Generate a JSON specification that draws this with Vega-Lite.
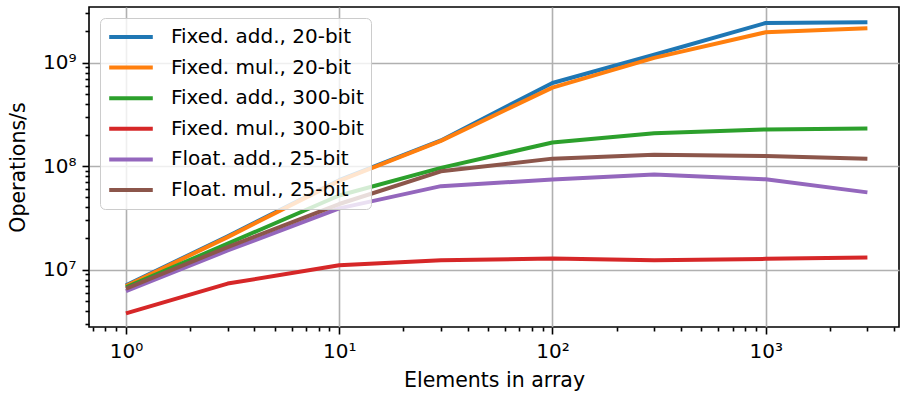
{
  "$schema": "https://vega.github.io/schema/vega-lite/v6.json",
  "width": 810,
  "height": 320,
  "autosize": {"type": "none"},
  "padding": {"left": 89, "top": 7, "right": 1, "bottom": 67},
  "background": "white",
  "config": {
    "font": "DejaVu Sans",
    "view": {"stroke": "black", "strokeWidth": 1.6},
    "axis": {
      "labelFont": "DejaVu Sans",
      "titleFont": "DejaVu Sans",
      "labelFontSize": 20,
      "titleFontSize": 20.5,
      "titleFontWeight": "normal",
      "labelColor": "black",
      "titleColor": "black",
      "domain": false,
      "tickColor": "black",
      "tickWidth": 1.6,
      "gridColor": "#b0b0b0",
      "gridWidth": 1.6
    }
  },
  "data": {
    "values": [
      {"series": "Fixed. add., 20-bit", "n": 1, "ops": 7050000},
      {"series": "Fixed. add., 20-bit", "n": 3, "ops": 21000000},
      {"series": "Fixed. add., 20-bit", "n": 10, "ops": 73000000},
      {"series": "Fixed. add., 20-bit", "n": 30, "ops": 177000000},
      {"series": "Fixed. add., 20-bit", "n": 100, "ops": 635000000},
      {"series": "Fixed. add., 20-bit", "n": 300, "ops": 1190000000},
      {"series": "Fixed. add., 20-bit", "n": 1000, "ops": 2410000000},
      {"series": "Fixed. add., 20-bit", "n": 3000, "ops": 2450000000},
      {"series": "Fixed. mul., 20-bit", "n": 1, "ops": 6950000},
      {"series": "Fixed. mul., 20-bit", "n": 3, "ops": 20600000},
      {"series": "Fixed. mul., 20-bit", "n": 10, "ops": 72000000},
      {"series": "Fixed. mul., 20-bit", "n": 30, "ops": 175000000},
      {"series": "Fixed. mul., 20-bit", "n": 100, "ops": 573000000},
      {"series": "Fixed. mul., 20-bit", "n": 300, "ops": 1110000000},
      {"series": "Fixed. mul., 20-bit", "n": 1000, "ops": 1960000000},
      {"series": "Fixed. mul., 20-bit", "n": 3000, "ops": 2140000000},
      {"series": "Fixed. add., 300-bit", "n": 1, "ops": 6740000},
      {"series": "Fixed. add., 300-bit", "n": 3, "ops": 17800000},
      {"series": "Fixed. add., 300-bit", "n": 10, "ops": 52000000},
      {"series": "Fixed. add., 300-bit", "n": 30, "ops": 96000000},
      {"series": "Fixed. add., 300-bit", "n": 100, "ops": 169000000},
      {"series": "Fixed. add., 300-bit", "n": 300, "ops": 208000000},
      {"series": "Fixed. add., 300-bit", "n": 1000, "ops": 226000000},
      {"series": "Fixed. add., 300-bit", "n": 3000, "ops": 231000000},
      {"series": "Fixed. mul., 300-bit", "n": 1, "ops": 3780000},
      {"series": "Fixed. mul., 300-bit", "n": 3, "ops": 7330000},
      {"series": "Fixed. mul., 300-bit", "n": 10, "ops": 11000000},
      {"series": "Fixed. mul., 300-bit", "n": 30, "ops": 12300000},
      {"series": "Fixed. mul., 300-bit", "n": 100, "ops": 12800000},
      {"series": "Fixed. mul., 300-bit", "n": 300, "ops": 12300000},
      {"series": "Fixed. mul., 300-bit", "n": 1000, "ops": 12700000},
      {"series": "Fixed. mul., 300-bit", "n": 3000, "ops": 13100000},
      {"series": "Float. add., 25-bit", "n": 1, "ops": 6200000},
      {"series": "Float. add., 25-bit", "n": 3, "ops": 15300000},
      {"series": "Float. add., 25-bit", "n": 10, "ops": 39000000},
      {"series": "Float. add., 25-bit", "n": 30, "ops": 64000000},
      {"series": "Float. add., 25-bit", "n": 100, "ops": 74000000},
      {"series": "Float. add., 25-bit", "n": 300, "ops": 82700000},
      {"series": "Float. add., 25-bit", "n": 1000, "ops": 74500000},
      {"series": "Float. add., 25-bit", "n": 3000, "ops": 55700000},
      {"series": "Float. mul., 25-bit", "n": 1, "ops": 6550000},
      {"series": "Float. mul., 25-bit", "n": 3, "ops": 16500000},
      {"series": "Float. mul., 25-bit", "n": 10, "ops": 43000000},
      {"series": "Float. mul., 25-bit", "n": 30, "ops": 89000000},
      {"series": "Float. mul., 25-bit", "n": 100, "ops": 118000000},
      {"series": "Float. mul., 25-bit", "n": 300, "ops": 129000000},
      {"series": "Float. mul., 25-bit", "n": 1000, "ops": 125000000},
      {"series": "Float. mul., 25-bit", "n": 3000, "ops": 118000000}
    ]
  },
  "mark": {"type": "line", "strokeWidth": 4, "strokeCap": "butt", "strokeJoin": "round", "clip": true},
  "encoding": {
    "x": {
      "field": "n",
      "type": "quantitative",
      "title": "Elements in array",
      "scale": {"type": "log", "domain": [0.671, 4220], "nice": false, "zero": false},
      "axis": {
        "values": [0.7, 0.8, 0.9, 1, 2, 3, 4, 5, 6, 7, 8, 9, 10, 20, 30, 40, 50, 60, 70, 80, 90, 100, 200, 300, 400, 500, 600, 700, 800, 900, 1000, 2000, 3000, 4000],
        "labelExpr": "abs(log(datum.value)/LN10 - round(log(datum.value)/LN10)) < 0.000001 ? '10' + ['⁰','¹','²','³','⁴','⁵','⁶','⁷','⁸','⁹'][round(log(datum.value)/LN10)] : ''",
        "tickSize": {"condition": {"test": "abs(log(datum.value)/LN10 - round(log(datum.value)/LN10)) < 0.000001", "value": 7}, "value": 4},
        "gridOpacity": {"condition": {"test": "abs(log(datum.value)/LN10 - round(log(datum.value)/LN10)) < 0.000001", "value": 1}, "value": 0},
        "labelPadding": 7,
        "labelFlush": false,
        "labelOverlap": false,
        "titlePadding": 9
      }
    },
    "y": {
      "field": "ops",
      "type": "quantitative",
      "title": "Operations/s",
      "scale": {"type": "log", "domain": [2790000, 3440000000], "nice": false, "zero": false},
      "axis": {
        "values": [3000000, 4000000, 5000000, 6000000, 7000000, 8000000, 9000000, 10000000, 20000000, 30000000, 40000000, 50000000, 60000000, 70000000, 80000000, 90000000, 100000000, 200000000, 300000000, 400000000, 500000000, 600000000, 700000000, 800000000, 900000000, 1000000000, 2000000000, 3000000000],
        "labelExpr": "abs(log(datum.value)/LN10 - round(log(datum.value)/LN10)) < 0.000001 ? '10' + ['⁰','¹','²','³','⁴','⁵','⁶','⁷','⁸','⁹'][round(log(datum.value)/LN10)] : ''",
        "tickSize": {"condition": {"test": "abs(log(datum.value)/LN10 - round(log(datum.value)/LN10)) < 0.000001", "value": 7}, "value": 4},
        "gridOpacity": {"condition": {"test": "abs(log(datum.value)/LN10 - round(log(datum.value)/LN10)) < 0.000001", "value": 1}, "value": 0},
        "labelPadding": 6,
        "labelFlush": false,
        "labelOverlap": false,
        "titlePadding": 14
      }
    },
    "color": {
      "field": "series",
      "type": "nominal",
      "scale": {
        "domain": ["Fixed. add., 20-bit", "Fixed. mul., 20-bit", "Fixed. add., 300-bit", "Fixed. mul., 300-bit", "Float. add., 25-bit", "Float. mul., 25-bit"],
        "range": ["#1f77b4", "#ff7f0e", "#2ca02c", "#d62728", "#9467bd", "#8c564b"]
      },
      "legend": {
        "title": null,
        "orient": "top-left",
        "offset": 11,
        "symbolType": "stroke",
        "symbolSize": 1900,
        "symbolStrokeWidth": 4,
        "labelFontSize": 20,
        "labelFont": "DejaVu Sans",
        "labelColor": "black",
        "labelLimit": 400,
        "labelOffset": 16,
        "clipHeight": 24,
        "rowPadding": 6.6,
        "padding": 7,
        "fillColor": "rgba(255,255,255,0.8)",
        "strokeColor": "#cccccc",
        "cornerRadius": 5
      }
    }
  }
}
